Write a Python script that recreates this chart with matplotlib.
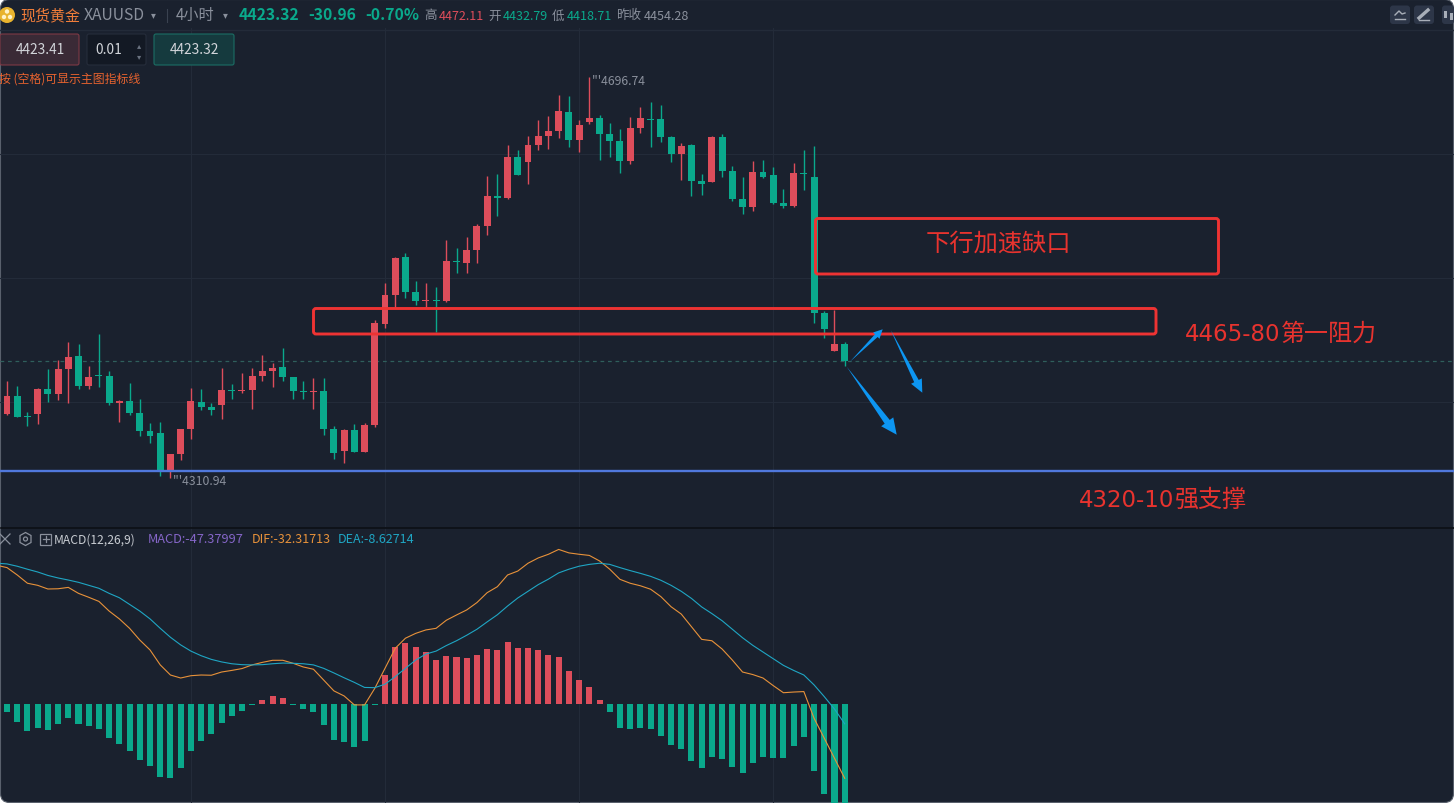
import matplotlib
matplotlib.use("Agg")
import matplotlib.pyplot as plt
from matplotlib.patches import FancyBboxPatch, Polygon, Circle, Rectangle
import numpy as np

plt.rcParams['font.family'] = ['Noto Sans CJK SC', 'DejaVu Sans']

W, H = 1454, 804

# CANDLES, first one is almost off the left edge
opens = [4376.7, 4372.8, 4390.2, 4370.3, 4372.8, 4396.9, 4392.1, 4416.1, 4428.6, 4399.8, 4410.3,
         4409.4, 4383.4, 4385.3, 4373.8, 4356.5, 4354.6, 4319.0, 4334.4, 4358.4, 4384.4, 4379.6,
         4381.5, 4395.9, 4395.0, 4395.9, 4409.4, 4414.2, 4418.0, 4408.4, 4395.0, 4394.3, 4395.0,
         4358.4, 4337.3, 4357.5, 4336.3, 4362.3, 4459.4, 4487.2, 4523.8, 4490.1, 4481.5, 4482.4,
         4481.5, 4519.9, 4518.0, 4530.5, 4553.5, 4582.4, 4580.5, 4619.9, 4615.1, 4631.4, 4640.1,
         4644.9, 4663.1, 4636.2, 4653.5, 4657.4, 4642.0, 4635.3, 4616.0, 4647.8, 4656.4, 4656.4,
         4639.1, 4622.8, 4631.4, 4596.8, 4595.8, 4639.1, 4606.4, 4579.5, 4571.8, 4605.5, 4602.6,
         4575.7, 4572.8, 4604.5, 4600.7, 4470.0, 4433.4, 4440.1]
closes = [4372.8, 4390.2, 4370.0, 4369.6, 4396.9, 4392.1, 4416.1, 4427.6, 4399.8, 4408.4, 4409.7,
          4383.4, 4385.3, 4373.8, 4356.5, 4351.7, 4319.0, 4334.4, 4358.4, 4385.3, 4379.6, 4376.7,
          4395.9, 4395.3, 4395.9, 4409.4, 4414.2, 4417.1, 4408.4, 4395.0, 4394.3, 4395.0, 4358.4,
          4335.4, 4357.5, 4336.3, 4362.3, 4460.3, 4487.2, 4522.8, 4490.1, 4481.5, 4482.4, 4481.8,
          4519.9, 4519.0, 4530.5, 4553.5, 4582.4, 4580.5, 4619.9, 4602.6, 4631.4, 4640.1, 4644.9,
          4664.1, 4636.2, 4650.6, 4657.4, 4642.0, 4635.3, 4616.0, 4647.8, 4657.4, 4655.4, 4639.1,
          4622.8, 4630.4, 4596.8, 4593.9, 4639.1, 4606.4, 4579.5, 4571.8, 4605.5, 4600.7, 4575.7,
          4572.8, 4604.5, 4603.5, 4470.2, 4454.5, 4440.1, 4423.3]
highs = [4378.0, 4404.6, 4399.8, 4374.8, 4397.8, 4416.1, 4424.8, 4442.1, 4440.1, 4419.0, 4449.7,
         4414.2, 4386.3, 4402.6, 4387.3, 4364.2, 4365.2, 4334.4, 4358.4, 4397.8, 4396.9, 4383.4,
         4417.1, 4401.7, 4412.3, 4417.1, 4429.6, 4421.9, 4436.3, 4408.4, 4404.6, 4407.4, 4407.4,
         4361.3, 4358.4, 4363.2, 4364.2, 4463.2, 4498.8, 4523.8, 4527.6, 4500.7, 4498.8, 4494.9,
         4540.1, 4532.4, 4543.0, 4555.5, 4601.6, 4603.5, 4631.4, 4626.6, 4640.1, 4655.4, 4659.3,
         4679.5, 4678.5, 4655.4, 4696.74, 4660.2, 4652.6, 4646.8, 4658.3, 4667.9, 4672.7, 4669.9,
         4640.1, 4633.3, 4632.4, 4603.5, 4640.1, 4642.0, 4611.2, 4600.7, 4616.0, 4617.0, 4610.3,
         4589.1, 4614.1, 4626.6, 4630.4, 4471.9, 4472.8, 4442.1]
lows = [4371.0, 4371.9, 4370.0, 4361.3, 4363.2, 4384.4, 4386.3, 4383.4, 4396.9, 4396.9, 4398.8,
        4381.5, 4365.2, 4371.9, 4351.7, 4345.0, 4313.3, 4310.94, 4328.6, 4348.8, 4376.7, 4371.9,
        4368.0, 4387.3, 4393.0, 4377.7, 4404.6, 4398.8, 4404.6, 4387.3, 4387.3, 4377.7, 4352.7,
        4329.6, 4325.7, 4336.3, 4336.3, 4360.7, 4455.5, 4474.7, 4484.3, 4477.6, 4474.7, 4451.7,
        4480.5, 4508.4, 4508.4, 4518.0, 4544.9, 4563.2, 4579.5, 4602.6, 4593.9, 4626.6, 4627.6,
        4638.1, 4629.5, 4624.7, 4651.6, 4617.0, 4619.9, 4604.5, 4613.1, 4642.9, 4629.5, 4634.3,
        4615.1, 4597.8, 4582.4, 4583.4, 4595.8, 4600.7, 4577.6, 4565.1, 4568.0, 4599.7, 4574.7,
        4570.9, 4571.8, 4588.2, 4460.6, 4446.2, 4433.4, 4418.71]

# MACD pane
hist = [-3.0, -3.5, -7.8, -11.7, -10.4, -11.3, -8.7, -6.1, -8.7, -9.6, -10.9, -14.8, -17.4, -20.4,
        -24.3, -27.0, -31.7, -32.2, -27.8, -20.4, -16.1, -13.0, -8.3, -5.2, -3.0, -0.3, 1.7, 3.5,
        2.6, -0.3, -2.2, -3.5, -9.1, -15.7, -16.5, -18.7, -16.1, -0.3, 12.6, 24.8, 26.5, 24.8,
        22.6, 19.1, 20.9, 20.4, 20.0, 21.3, 23.9, 23.5, 27.0, 24.3, 24.3, 23.5, 21.3, 20.4, 14.3,
        10.4, 7.4, 1.7, -3.5, -10.4, -10.9, -10.4, -10.9, -13.9, -17.8, -19.6, -24.8, -27.8, -23.0,
        -23.9, -27.4, -30.0, -25.7, -23.0, -23.5, -23.5, -18.3, -14.3, -29.1, -39.1, -44.5, -47.38]
dif = [60.3, 59.3, 56.1, 52.5, 51.6, 50.0, 50.1, 50.7, 48.1, 46.4, 44.6, 40.4, 37.0, 32.9, 27.8,
       23.5, 17.0, 12.6, 11.3, 12.3, 12.6, 12.5, 13.9, 14.6, 15.4, 17.0, 18.1, 19.0, 19.0, 17.7,
       16.1, 15.1, 10.4, 5.7, 3.5, -0.4, -0.4, 6.8, 15.5, 24.2, 28.6, 30.7, 32.2, 32.9, 36.4, 38.7,
       40.9, 44.1, 48.4, 51.0, 56.1, 57.8, 61.2, 63.5, 65.1, 67.2, 65.7, 65.1, 64.6, 62.2, 58.6,
       54.2, 52.5, 51.4, 49.9, 46.7, 42.3, 39.1, 33.6, 28.1, 27.5, 23.9, 19.1, 13.9, 12.8, 11.3,
       8.0, 4.9, 5.2, 5.4, -6.2, -14.9, -23.6, -32.32]
dea = [61.2, 60.9, 59.9, 58.6, 57.4, 55.9, 54.8, 53.9, 52.9, 51.6, 50.3, 48.1, 46.2, 43.3, 40.4,
       37.0, 32.9, 29.0, 25.7, 23.0, 21.0, 19.4, 18.3, 17.5, 17.1, 17.0, 17.1, 17.5, 17.8, 17.7,
       17.5, 17.0, 15.5, 13.5, 11.4, 9.4, 7.2, 7.1, 8.6, 11.9, 15.5, 19.1, 21.7, 23.0, 25.4, 27.5,
       29.9, 32.5, 35.7, 38.8, 42.6, 46.1, 49.0, 51.9, 54.3, 57.0, 58.6, 59.9, 60.7, 61.2, 60.7,
       59.3, 58.0, 56.8, 55.5, 53.8, 51.6, 49.0, 45.9, 42.2, 39.3, 36.2, 32.5, 28.8, 25.5, 22.6,
       19.7, 16.8, 14.6, 12.6, 8.3, 3.2, -2.2, -8.63]

last_price = 4423.32
support_price = 4318.1
grid_prices = [4384.4, 4503.6, 4622.7, 4741.9]
grid_bars = [18, 37, 56, 75]

BG = '#1a212e'
GRID = '#232b39'
RED = '#dd4d5b'
GREEN = '#0aa98c'
ANNO = '#ee3333'
ANNO_TEXT = '#e8332e'
ARROW = '#0d96f2'
GREY = '#8a909c'
SHIFT = 1  # everything came out a pixel high


def px_axes(y0, y1):
    a = fig.add_axes([0, 1 - (y1 + SHIFT) / H, 1, (y1 - y0) / H])
    a.patch.set_alpha(0)
    a.set_xlim(-0.685, 141.64)
    a.set_xticks(grid_bars)
    a.tick_params(length=0, labelbottom=False, labelleft=False)
    for s in a.spines.values():
        s.set_visible(False)
    a.grid(True, color=GRID, lw=0.8)
    a.set_axisbelow(True)
    return a


def arrow(a, tail, tip, w=7.5, head=15):
    # thin tail, wider toward the head, like the hand drawn ones
    tail, tip = np.array(tail, float), np.array(tip, float)
    d = (tip - tail) / np.hypot(*(tip - tail))
    n = np.array([-d[1], d[0]])
    neck = tip - d * head
    a.add_patch(Polygon([tail, neck + n * w * 0.42, neck + n * w, tip, neck - n * w, neck - n * w * 0.42],
                        closed=True, fc=ARROW, ec='none', zorder=6))


def txt(a, x, y, s, size, color, ha='left', **kw):
    a.text(x, y, s, fontsize=size, color=color, ha=ha, va='center', **kw)


fig = plt.figure(figsize=(W / 100, H / 100), dpi=100, facecolor='white')

# background with round window corners
back = fig.add_axes([0, 0, 1, 1], zorder=0)
back.set_xlim(0, W)
back.set_ylim(H, 0)
back.axis('off')
back.add_patch(FancyBboxPatch((0.5, 0.5), W - 1, H - 1, boxstyle='round,pad=0,rounding_size=9',
                              fc=BG, ec='#59606c', lw=0.8))

x = np.arange(-1, 83)
opens, closes, highs, lows = map(np.array, (opens, closes, highs, lows))
colors = [RED if c >= o else GREEN for o, c in zip(opens, closes)]

ax = px_axes(28, 527)
ax.set_zorder(1)
ax.set_ylim(4264.2, 4743.8)
ax.set_yticks(grid_prices)
ax.axhline(last_price, color='#2f5f5c', lw=0.9, ls=(0, (3, 3)), zorder=1)
ax.vlines(x, lows, highs, colors=colors, lw=1.0, zorder=2)
ax.bar(x, np.maximum(np.abs(closes - opens), 1.0), bottom=np.minimum(opens, closes), width=0.68,
       color=colors, zorder=3)
ax.axhline(support_price, color='#5078dc', lw=1.7, zorder=4)
ax.annotate("'''4696.74", (57, highs.max()), xytext=(2.2, -2.2), textcoords='offset points',
            fontsize=8.8, color=GREY, va='center', ha='left', zorder=5)
ax.annotate("'''4310.94", (16, lows.min()), xytext=(1.4, -1.6), textcoords='offset points',
            fontsize=8.8, color=GREY, va='center', ha='left', zorder=5)

macd = px_axes(528, 804)
macd.set_zorder(1)
macd.set_ylim(-43.48, 76.52)
macd.set_yticks([])
hist = np.array(hist)
macd.bar(x, hist, width=0.59, color=[RED if v >= 0 else GREEN for v in hist], zorder=2)
macd.plot(x, dif, color='#e8923a', lw=0.8, zorder=3)
macd.plot(x, dea, color='#1fa6c4', lw=0.8, zorder=3)

# everything on top is placed in screen pixels
top = fig.add_axes([0, 0, 1, 1], zorder=2)
top.set_xlim(0, W)
top.set_ylim(H - SHIFT, -SHIFT)
top.axis('off')

top.plot([0, W], [30, 30], color='#232b39', lw=1)
top.plot([1, W], [527.5, 527.5], color='#0c0f15', lw=1.2)

# header
top.add_patch(Circle((7, 15), 8, fc='#e8b32e', ec='none'))
for cx, cy in [(7, 11.5), (4, 17), (10, 17)]:
    top.add_patch(Circle((cx, cy), 2.2, fc='#fff2c8', ec='none'))
txt(top, 20, 14.5, '现货黄金', 10.8, '#f07d3a')
txt(top, 84, 15, 'XAUUSD', 11.3, GREY)
txt(top, 153, 14.5, '▾', 7, GREY, ha='center')
top.plot([167, 167], [9, 22], color='#3a4250', lw=0.8)
txt(top, 176, 14.5, '4小时', 10.9, GREY)
txt(top, 225, 14.5, '▾', 7, GREY, ha='center')
txt(top, 239, 14.5, '4423.32', 11.3, GREEN, fontweight='bold')
txt(top, 308, 14.5, '-30.96', 11.3, GREEN, fontweight='bold')
txt(top, 365, 14.5, '-0.70%', 11.3, GREEN, fontweight='bold')
txt(top, 424, 15, '高', 9, GREY)
txt(top, 439, 15, '4472.11', 9, RED)
txt(top, 488, 15, '开', 9, GREY)
txt(top, 503, 15, '4432.79', 9, GREEN)
txt(top, 552, 15, '低', 9, GREY)
txt(top, 567, 15, '4418.71', 9, GREEN)
txt(top, 616, 15, '昨收', 9, GREY)
txt(top, 644, 15, '4454.28', 9, GREY)

# order buttons
for bx, bw, fc, ec, label, tx in [(0, 79, '#3a2a36', '#7e3a45', '4423.41', 40),
                                  (87, 59, '#131924', '#262d3b', '0.01', 109),
                                  (154, 80, '#153a3e', '#1b6e64', '4423.32', 194)]:
    top.add_patch(FancyBboxPatch((bx, 34), bw, 31, boxstyle='round,pad=0,rounding_size=2', fc=fc, ec=ec, lw=0.8))
    txt(top, tx, 49.5, label, 9.9, '#d2d5da', ha='center')
txt(top, 139, 45, '▴', 6, '#6a7280', ha='center')
txt(top, 139, 56, '▾', 6, '#6a7280', ha='center')
txt(top, -1, 78, '按 (空格)可显示主图指标线', 8.6, '#e8632e')

# tool buttons, top right
for bx, bw in [(1390, 20), (1414, 20), (1442, 12)]:
    top.add_patch(FancyBboxPatch((bx, 5.5), bw, 18.5, boxstyle='round,pad=0,rounding_size=3', fc='#2d3648', ec='none'))
top.plot([1395, 1399, 1402, 1405], [15, 11, 14, 13], color='#a8aeb8', lw=1)
top.plot([1395, 1405], [19, 19], color='#a8aeb8', lw=1)
top.plot([1419, 1428], [18, 10], color='#a8aeb8', lw=2.4)
top.plot([1419, 1429], [19.5, 19.5], color='#a8aeb8', lw=1)
top.add_patch(Rectangle((1444, 11), 3, 7, fc='#a8aeb8'))
top.add_patch(Rectangle((1450, 13), 3, 7, fc='#a8aeb8'))

# MACD title row
top.plot([0, 10], [534, 544], color=GREY, lw=0.9)
top.plot([0, 10], [544, 534], color=GREY, lw=0.9)
top.add_patch(Polygon([(25.5, 532.5), (31, 535.5), (31, 542.5), (25.5, 545.5), (20, 542.5), (20, 535.5)],
                      closed=True, fc='none', ec=GREY, lw=0.9))
top.add_patch(Circle((25.5, 539), 2, fc='none', ec=GREY, lw=0.9))
top.add_patch(Rectangle((40, 533.5), 11, 11, fc='none', ec=GREY, lw=0.9))
top.plot([42.5, 48.5], [539, 539], color=GREY, lw=0.9)
top.plot([45.5, 45.5], [536, 542], color=GREY, lw=0.9)
txt(top, 54, 539, 'MACD(12,26,9)', 8.7, '#c8ccd2')
txt(top, 148, 539, 'MACD:-47.37997', 9.2, '#8566c8')
txt(top, 252, 539, 'DIF:-32.31713', 9, '#e8923a')
txt(top, 338, 539, 'DEA:-8.62714', 9, '#1fa6c4')

# hand drawn marks
for bx, by, bw, bh in [(815.5, 218.5, 403, 55.5), (313.5, 308.5, 842.5, 25.5)]:
    top.add_patch(FancyBboxPatch((bx, by), bw, bh, boxstyle='round,pad=0,rounding_size=2.5',
                                 fc='none', ec=ANNO, lw=2.1, zorder=6))
txt(top, 998, 243, '下行加速缺口', 17.5, ANNO_TEXT, ha='center', zorder=7)
txt(top, 1185, 333.5, '4465-80', 16.5, ANNO_TEXT, family='DejaVu Sans', zorder=7)
txt(top, 1281, 333, '第一阻力', 17.3, ANNO_TEXT, zorder=7)
txt(top, 1079, 499.5, '4320-10', 16.5, ANNO_TEXT, family='DejaVu Sans', zorder=7)
txt(top, 1175, 499, '强支撑', 17.3, ANNO_TEXT, zorder=7)
arrow(top, (850, 361.7), (882.7, 329.3), w=4.5, head=9)
arrow(top, (890.7, 330), (922.3, 392.7), w=6, head=13)
arrow(top, (846.7, 366.7), (896.7, 434.7), w=7.5, head=16)

fig.savefig('out.png', dpi=100, facecolor='white')
